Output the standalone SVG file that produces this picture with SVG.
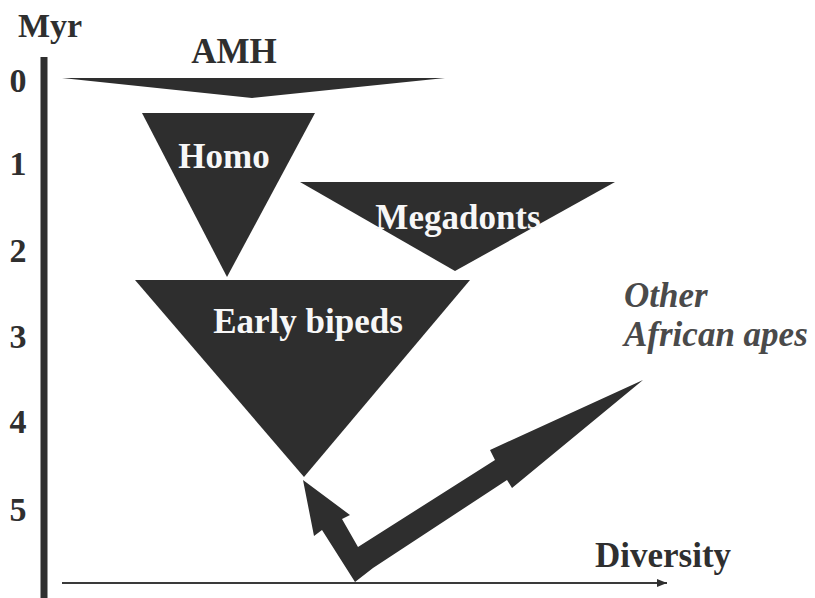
<svg xmlns="http://www.w3.org/2000/svg" width="815" height="598" viewBox="0 0 815 598">
  <defs>
    <style>
      .lbl { font-family: "Liberation Serif", "Times New Roman", serif; font-weight: bold; fill: #2f2f2f; }
      .inner { font-family: "Liberation Serif", "Times New Roman", serif; font-weight: bold; fill: #f7f7f7; font-size: 35px; text-anchor: middle; }
      .tri { fill: #2e2e2e; }
      .tick { font-size: 34px; text-anchor: middle; }
    </style>
    <marker id="axisHead" viewBox="0 0 10 8" refX="10" refY="4" markerWidth="17" markerHeight="8" markerUnits="userSpaceOnUse" orient="auto">
      <path d="M0,0 L10,4 L0,8 Z" fill="#2f2f2f"/>
    </marker>
  </defs>
  <rect width="815" height="598" fill="#ffffff"/>

  <!-- time axis (millions of years) -->
  <g id="time-axis">
    <line x1="44" y1="57" x2="44" y2="598" stroke="#2f2f2f" stroke-width="7"/>
    <text class="lbl" x="50" y="37" font-size="34" text-anchor="middle">Myr</text>
    <text class="lbl tick" x="18" y="92">0</text>
    <text class="lbl tick" x="18" y="175">1</text>
    <text class="lbl tick" x="18" y="262">2</text>
    <text class="lbl tick" x="18" y="348">3</text>
    <text class="lbl tick" x="18" y="433">4</text>
    <text class="lbl tick" x="18" y="521">5</text>
  </g>

  <!-- diversity axis -->
  <g id="diversity-axis">
    <line x1="62" y1="583" x2="667" y2="583" stroke="#3a3a3a" stroke-width="2" marker-end="url(#axisHead)"/>
    <text class="lbl" x="595" y="567" font-size="35">Diversity</text>
  </g>

  <g id="amh">
    <polygon class="tri" points="62,78 445,78 252,98"/>
    <text class="lbl" x="234" y="63" font-size="35" text-anchor="middle">AMH</text>
  </g>

  <g id="homo">
    <polygon class="tri" points="142,113 315,113 227,277"/>
    <text class="inner" x="224" y="168">Homo</text>
  </g>

  <g id="megadonts">
    <polygon class="tri" points="300,182 615,182 455,271"/>
    <text class="inner" x="458" y="229">Megadonts</text>
  </g>

  <g id="early-bipeds">
    <polygon class="tri" points="135,280 470,280 304,477"/>
    <text class="inner" x="308" y="333" font-size="36">Early bipeds</text>
  </g>

  <g id="other-apes">
    <text class="lbl" x="624" y="307" font-size="35" font-style="italic" fill="#4a4a4a" style="fill:#4a4a4a">Other</text>
    <text class="lbl" x="624" y="346" font-size="35" font-style="italic" style="fill:#4a4a4a">African apes</text>
  </g>

  <!-- split from the common ancestor: one branch up to the bipeds, one out to the apes -->
  <g id="connectors">
    <polygon fill="#2e2e2e" points="303,480 350,515 342,519 358,547 495,460 490,450 643,380 512,488 507,480 373,568 355,582 322,530 314,536"/>
  </g>
</svg>
